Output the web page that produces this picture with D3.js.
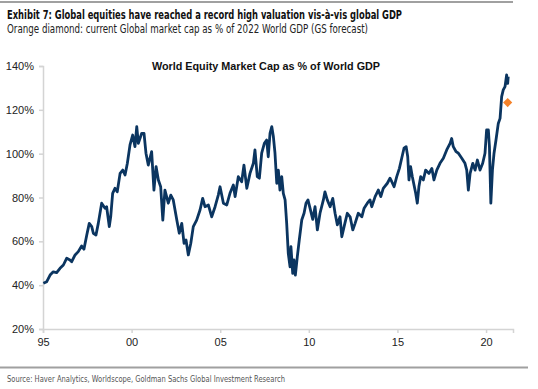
<!DOCTYPE html>
<html>
<head>
<meta charset="utf-8">
<script src="https://cdn.jsdelivr.net/npm/d3@7"></script>
<style>
  body { margin: 0; background: #fff; }
  .narrow { font-family: "Liberation Sans Narrow", "DejaVu Sans Condensed", "Arial Narrow", sans-serif; }
  .tick text { font-family: "Liberation Sans", Arial, sans-serif; }
</style>
</head>
<body>
<div id="chart"></div>
<script>
// Datos (año decimal, % del PIB mundial)
let years = [
  1995.02, 1995.21, 1995.40, 1995.58, 1995.77, 1995.96, 1996.15, 1996.34, 1996.52, 1996.62,
  1996.81, 1996.99, 1997.18, 1997.31, 1997.47, 1997.61, 1997.75, 1997.84, 1997.99, 1998.12,
  1998.31, 1998.50, 1998.59, 1998.74, 1998.82, 1998.93, 1999.06, 1999.19, 1999.35, 1999.50,
  1999.63, 1999.76, 1999.91, 2000.06, 2000.19, 2000.29, 2000.38, 2000.57, 2000.70, 2000.81,
  2000.94, 2001.13, 2001.26, 2001.38, 2001.51, 2001.64, 2001.76, 2001.88, 2002.07, 2002.21,
  2002.35, 2002.55, 2002.69, 2002.83, 2002.96, 2003.07, 2003.20, 2003.34, 2003.48, 2003.67,
  2003.86, 2004.01, 2004.14, 2004.33, 2004.52, 2004.71, 2004.89, 2004.99, 2005.18, 2005.37,
  2005.55, 2005.74, 2005.84, 2006.02, 2006.21, 2006.34, 2006.50, 2006.68, 2006.87, 2006.96,
  2007.09, 2007.21, 2007.34, 2007.49, 2007.62, 2007.71, 2007.81, 2007.91, 2008.00, 2008.09,
  2008.19, 2008.28, 2008.37, 2008.47, 2008.56, 2008.66, 2008.75, 2008.84, 2008.94, 2008.99,
  2009.09, 2009.16, 2009.24, 2009.35, 2009.46, 2009.60, 2009.73, 2009.84, 2009.95, 2010.07,
  2010.22, 2010.35, 2010.48, 2010.63, 2010.82, 2010.91, 2011.04, 2011.20, 2011.35, 2011.48,
  2011.61, 2011.76, 2011.86, 2011.99, 2012.17, 2012.33, 2012.48, 2012.61, 2012.79, 2012.99,
  2013.12, 2013.30, 2013.45, 2013.55, 2013.74, 2013.92, 2014.06, 2014.20, 2014.43, 2014.58,
  2014.68, 2014.81, 2014.96, 2015.11, 2015.24, 2015.37, 2015.49, 2015.58, 2015.65, 2015.74,
  2015.84, 2016.03, 2016.12, 2016.21, 2016.31, 2016.46, 2016.59, 2016.78, 2016.94, 2017.06,
  2017.22, 2017.40, 2017.59, 2017.78, 2017.97, 2018.06, 2018.15, 2018.31, 2018.44, 2018.63,
  2018.81, 2018.91, 2019.00, 2019.10, 2019.25, 2019.38, 2019.51, 2019.66, 2019.81, 2019.94,
  2020.03, 2020.13, 2020.19, 2020.27, 2020.36, 2020.45, 2020.56, 2020.69, 2020.79, 2020.88,
  2020.97, 2021.07, 2021.16, 2021.22, 2021.25
];
let capPct = [
  40.9, 41.6, 44.6, 46.1, 45.7, 47.7, 49.2, 52.3, 51.5, 50.7,
  53.8, 55.3, 57.9, 56.4, 62.9, 68.2, 66.7, 63.7, 62.9, 68.2,
  77.4, 75.1, 75.8, 66.7, 71.2, 81.9, 84.2, 82.6, 91.0, 92.5,
  90.3, 95.6, 104.0, 108.5, 103.2, 112.3, 104.7, 109.3, 109.3, 100.2,
  94.8, 100.9, 83.4, 94.1, 88.0, 84.9, 69.7, 83.4, 77.4, 81.1,
  78.9, 69.7, 63.7, 68.2, 59.1, 60.6, 53.8, 59.1, 66.7, 69.7,
  74.3, 79.6, 75.8, 76.6, 71.2, 75.8, 81.1, 84.9, 77.4, 76.6,
  81.9, 85.7, 80.4, 89.5, 87.2, 94.8, 84.2, 91.0, 95.6, 101.7,
  89.5, 88.8, 100.2, 104.7, 106.2, 98.6, 109.3, 112.3, 107.7, 100.2,
  86.5, 92.5, 83.4, 89.5, 81.9, 78.9, 68.2, 54.5, 48.4, 57.6,
  45.4, 51.5, 44.6, 53.0, 60.6, 69.7, 72.8, 77.4, 78.9, 75.0,
  70.0, 75.8, 65.2, 72.8, 78.9, 82.6, 78.9, 75.8, 79.6, 72.8,
  67.5, 71.2, 62.1, 66.7, 72.8, 71.2, 65.2, 68.2, 72.8, 71.2,
  75.1, 77.4, 78.9, 75.8, 80.4, 83.4, 80.4, 84.2, 86.5, 88.8,
  87.2, 84.9, 89.5, 93.3, 97.9, 102.5, 103.2, 98.6, 88.0, 94.1,
  89.5, 81.9, 77.4, 84.9, 89.5, 88.0, 92.5, 91.0, 93.3, 88.0,
  92.5, 95.6, 97.9, 101.7, 104.7, 106.9, 103.2, 100.9, 100.2, 97.9,
  95.6, 92.5, 83.4, 91.0, 95.6, 92.5, 97.1, 92.5, 95.6, 100.2,
  110.8, 110.8, 103.2, 77.4, 92.5, 100.2, 106.2, 113.8, 116.1, 126.0,
  129.1, 130.6, 135.9, 132.1, 135.1
];
// Rombo naranja: cap. actual como % del PIB mundial 2022 (previsión GS)
let forecastYear = 2021.22;
let forecastPct = 123.3;

let yTicks = [20, 40, 60, 80, 100, 120, 140];
let xTicks = [1995, 2000, 2005, 2010, 2015, 2020];

let width = 538, height = 389;
let margin = {left: 43, right: 25, top: 66, bottom: 60};

let svg = d3.select("#chart").append("svg")
  .attr("width", width)
  .attr("height", height);

// Lineas grises de cabecera y pie
svg.append("line")
  .attr("x1", 0).attr("x2", 513).attr("y1", 2).attr("y2", 2)
  .attr("stroke", "#a0a0a0").attr("stroke-width", 2);
svg.append("line")
  .attr("x1", 0).attr("x2", 528).attr("y1", 367.5).attr("y2", 367.5)
  .attr("stroke", "#a0a0a0").attr("stroke-width", 2);

// textLength para imitar la fuente estrecha del original
svg.append("text").attr("class", "narrow")
  .attr("x", 7).attr("y", 19)
  .attr("font-size", "12.5px").attr("font-weight", "bold").attr("fill", "#111")
  .attr("textLength", 395).attr("lengthAdjust", "spacingAndGlyphs")
  .text("Exhibit 7: Global equities have reached a record high valuation vis-à-vis global GDP");
svg.append("text").attr("class", "narrow")
  .attr("x", 7).attr("y", 33)
  .attr("font-size", "11.5px").attr("fill", "#222")
  .attr("textLength", 361).attr("lengthAdjust", "spacingAndGlyphs")
  .text("Orange diamond: current Global market cap as % of 2022 World GDP (GS forecast)");
svg.append("text").attr("class", "narrow")
  .attr("x", 7).attr("y", 382)
  .attr("font-size", "9.5px").attr("fill", "#555")
  .attr("textLength", 278).attr("lengthAdjust", "spacingAndGlyphs")
  .text("Source: Haver Analytics, Worldscope, Goldman Sachs Global Investment Research");

let x = d3.scaleLinear()
  .domain([1995, 2021.52])
  .range([margin.left, width - margin.right]);
let y = d3.scaleLinear()
  .domain([20, 140])
  .range([height - margin.bottom, margin.top]);

// Ejes
let yAxis = svg.append("g")
  .attr("transform", "translate(" + margin.left + ",0)")
  .call(d3.axisLeft(y).tickValues(yTicks).tickSize(4).tickPadding(5)
    .tickFormat(function(d){ return d + "%"; }));
let xAxis = svg.append("g")
  .attr("transform", "translate(0," + y(20) + ")")
  .call(d3.axisBottom(x).tickValues(xTicks).tickSize(4).tickPadding(5)
    .tickFormat(function(d){ return String(d).slice(2); }));

[yAxis, xAxis].forEach(function(g){
  g.select(".domain").attr("stroke", "#d4d4d4").attr("stroke-width", 1.5);
  g.selectAll(".tick line").attr("stroke", "#d4d4d4").attr("stroke-width", 1.5);
  g.selectAll(".tick text").attr("font-size", "11px").attr("fill", "#222");
});

svg.append("text")
  .attr("x", 266).attr("y", 70)
  .attr("text-anchor", "middle")
  .attr("font-family", "Liberation Sans, Arial, sans-serif")
  .attr("font-size", "10.8px").attr("font-weight", "bold").attr("fill", "#111")
  .text("World Equity Market Cap as % of World GDP");

// Serie
let data = years.map(function(d, i){ return [d, capPct[i]]; });
let line = d3.line()
  .x(function(d){ return x(d[0]); })
  .y(function(d){ return y(d[1]); });

svg.append("path")
  .datum(data)
  .attr("d", line)
  .attr("fill", "none")
  .attr("stroke", "#0b3560")
  .attr("stroke-width", 2.8)
  .attr("stroke-linejoin", "round");

svg.append("path")
  .attr("d", d3.symbol().type(d3.symbolSquare).size(42)())
  .attr("transform", "translate(" + x(forecastYear) + "," + y(forecastPct) + ") rotate(45)")
  .attr("fill", "#f5822a");
</script>
</body>
</html>
